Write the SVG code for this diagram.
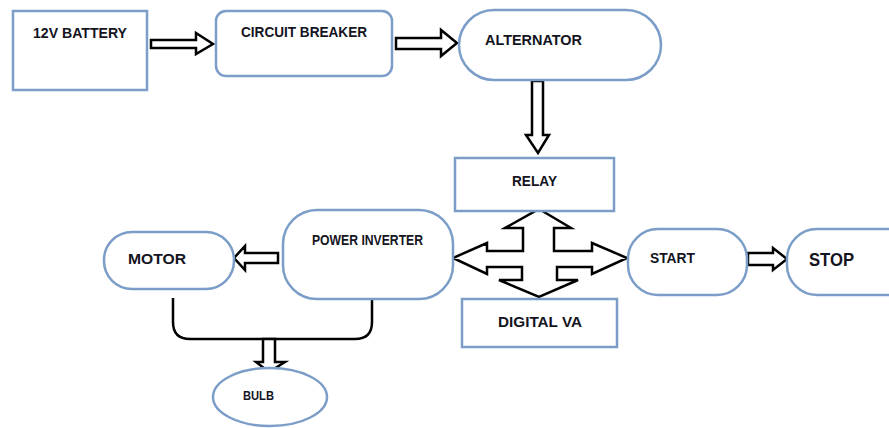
<svg xmlns="http://www.w3.org/2000/svg" width="889" height="428" viewBox="0 0 889 428">
<style>
.n{fill:#fff;stroke:#7b9dc8;stroke-width:2.5}
.t{font-family:"Liberation Sans",Arial,sans-serif;font-weight:bold;fill:#14141e}
.a{fill:#fff;stroke:#000;stroke-width:2.5;stroke-linejoin:miter}
.c{fill:none;stroke:#000;stroke-width:2.5}
</style>
<rect width="889" height="428" fill="#fff"/>
<g id="connectors">
<polygon class="a" points="151,40 196,40 196,33 213,44 196,54 196,48 151,48"/>
<polygon class="a" points="396,38 441,38 441,30 457,43 441,56 441,49 396,49"/>
<polygon class="a" points="532,81 543,81 543,135 549,135 538,153 526,135 532,135"/>
<polygon class="a" points="539,209 571,228 554,228 554,251 592,251 592,243 627,258 592,274 592,267 557,267 557,280 578,280 539,297 499,280 522,280 522,267 487,267 487,274 453,258 487,243 487,251 523,251 523,228 505,228"/>
<polygon class="a" points="748,253 773,253 773,248 787,259 773,270 773,265 748,265"/>
<polygon class="a" points="278,253 245,253 245,246 234,258 245,270 245,263 278,263"/>
<path class="c" d="M173,298 L173,322 Q173,339 190,339 L355,339 Q372,339 372,322 L372,300"/>
<polygon class="a" points="263,339 275,339 275,362 285,362 269,372 256,362 263,362"/>
</g>
<g id="battery"><rect class="n" x="13" y="11" width="134" height="79"/><text class="t" x="33" y="38" font-size="15" textLength="94" lengthAdjust="spacingAndGlyphs">12V BATTERY</text></g>
<g id="breaker"><rect class="n" x="216" y="11" width="176" height="65" rx="10"/><text class="t" x="241" y="37" font-size="15" textLength="126" lengthAdjust="spacingAndGlyphs">CIRCUIT BREAKER</text></g>
<g id="alternator"><rect class="n" x="459" y="10" width="202" height="70" rx="35"/><text class="t" x="485" y="45" font-size="15" textLength="97" lengthAdjust="spacingAndGlyphs">ALTERNATOR</text></g>
<g id="relay"><rect class="n" x="455" y="158" width="159" height="53"/><text class="t" x="512" y="186" font-size="15" textLength="45" lengthAdjust="spacingAndGlyphs">RELAY</text></g>
<g id="digitalva"><rect class="n" x="462" y="299" width="155" height="48"/><text class="t" x="498" y="327" font-size="15" textLength="84" lengthAdjust="spacingAndGlyphs">DIGITAL VA</text></g>
<g id="start"><rect class="n" x="628" y="229" width="119" height="66" rx="30"/><text class="t" x="650" y="263" font-size="15" textLength="45" lengthAdjust="spacingAndGlyphs">START</text></g>
<g id="stop"><rect class="n" x="787" y="229" width="130" height="66" rx="30"/><text class="t" x="809" y="266" font-size="19" textLength="45" lengthAdjust="spacingAndGlyphs">STOP</text></g>
<g id="inverter"><rect class="n" x="283" y="210" width="170" height="89" rx="34"/><text class="t" x="312" y="245" font-size="14" textLength="111" lengthAdjust="spacingAndGlyphs">POWER INVERTER</text></g>
<g id="motor"><rect class="n" x="104" y="232" width="130" height="57" rx="28"/><text class="t" x="128" y="264" font-size="15" textLength="58" lengthAdjust="spacingAndGlyphs">MOTOR</text></g>
<g id="bulb"><ellipse class="n" cx="270" cy="397" rx="57" ry="29"/><text class="t" x="243" y="400" font-size="13" textLength="31" lengthAdjust="spacingAndGlyphs">BULB</text></g>
</svg>
